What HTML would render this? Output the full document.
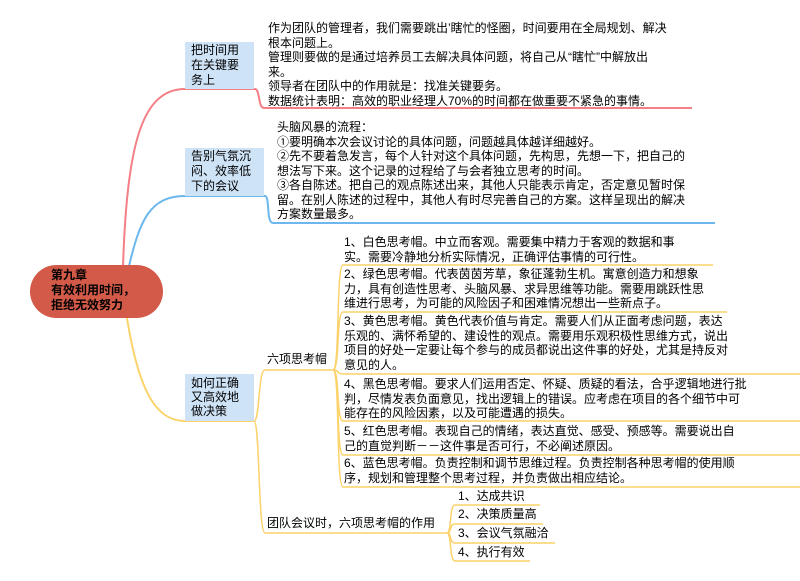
<!DOCTYPE html>
<html><head><meta charset="utf-8"><style>
body{margin:0;width:800px;height:581px;background:#fff;position:relative;overflow:hidden;font-family:"Liberation Sans","Noto Sans CJK SC",sans-serif;font-size:12px;color:#000}
.t{position:absolute;line-height:14.5px;white-space:nowrap}
.box{position:absolute;background:#cfe3f7;}
.root{position:absolute;left:30px;top:265px;width:133px;height:53px;border-radius:27px;background:#d35a48}
</style></head><body>
<svg width="800" height="581" style="position:absolute;left:0;top:0">
<g fill="none" stroke-width="2">
<path d="M123,266 C127,150 140,89 185,89 L255,89 C260,89 258,108 264,108 L692,108" stroke="#f47f86"/>
<path d="M129,266 C140,220 150,196 185,196 L265,196 C270,196 266,223 273,223 L715,223" stroke="#6cb8ee"/>
<path d="M127,318 C140,400 160,421 185,421 L254,421" stroke="#fcd26a"/>
<path d="M254,421 C260,421 258,370 265,370 L333,370" stroke="#fcd26a" stroke-width="1.5"/>
<path d="M254,421 C260,421 258,533 265,533 L447,533" stroke="#fcd26a" stroke-width="1.5"/>
<g stroke="#fcd26a" stroke-width="1.5">
<path d="M333,370 C340,370 336,265 343,265 L713,265"/>
<path d="M333,370 C340,370 336,312 343,312 L727,312"/>
<path d="M333,370 C340,370 336,374 343,374 L800,374"/>
<path d="M333,370 C340,370 336,421 343,421 L800,421"/>
<path d="M333,370 C340,370 336,455 343,455 L800,455"/>
<path d="M333,370 C340,370 336,487 343,487 L800,487"/>
<path d="M447,533 C452,533 449,505 455,505 L540,505"/>
<path d="M447,533 C452,533 449,524 455,524 L543,524"/>
<path d="M447,533 C452,533 449,543 455,543 L555,543"/>
<path d="M447,533 C452,533 449,561 455,561 L530,561"/>
</g></g></svg>
<div class="root"></div>
<div class="t" style="left:51px;top:268px;font-weight:bold;line-height:15px">第九章<br>有效利用时间，<br>拒绝无效努力</div>
<div class="box" style="left:185px;top:42px;width:69px;height:47px"></div>
<div class="t" style="left:191px;top:43px;line-height:15px">把时间用<br>在关键要<br>务上</div>
<div class="box" style="left:185px;top:148px;width:79px;height:48px"></div>
<div class="t" style="left:191px;top:149px;line-height:15px">告别气氛沉<br>闷、效率低<br>下的会议</div>
<div class="box" style="left:185px;top:374px;width:69px;height:47px"></div>
<div class="t" style="left:191px;top:376px;line-height:14px">如何正确<br>又高效地<br>做决策</div>
<div class="t" style="left:268px;top:21px">作为团队的管理者，我们需要跳出’瞎忙的怪圈，时间要用在全局规划、解决<br>根本问题上。<br>管理则要做的是通过培养员工去解决具体问题，将自己从“瞎忙”中解放出<br>来。<br>领导者在团队中的作用就是：找准关键要务。<br>数据统计表明：高效的职业经理人70%的时间都在做重要不紧急的事情。</div>
<div class="t" style="left:277px;top:120px">头脑风暴的流程：<br>①要明确本次会议讨论的具体问题，问题越具体越详细越好。<br>②先不要着急发言，每个人针对这个具体问题，先构思，先想一下，把自己的<br>想法写下来。这个记录的过程给了与会者独立思考的时间。<br>③各自陈述。把自己的观点陈述出来，其他人只能表示肯定，否定意见暂时保<br>留。在别人陈述的过程中，其他人有时尽完善自己的方案。这样呈现出的解决<br>方案数量最多。</div>
<div class="t" style="left:267px;top:352px">六项思考帽</div>
<div class="t" style="left:344px;top:235px">1、白色思考帽。中立而客观。需要集中精力于客观的数据和事<br>实。需要冷静地分析实际情况，正确评估事情的可行性。</div>
<div class="t" style="left:344px;top:267px">2、绿色思考帽。代表茵茵芳草，象征蓬勃生机。寓意创造力和想象<br>力，具有创造性思考、头脑风暴、求异思维等功能。需要用跳跃性思<br>维进行思考，为可能的风险因子和困难情况想出一些新点子。</div>
<div class="t" style="left:344px;top:314px">3、黄色思考帽。黄色代表价值与肯定。需要人们从正面考虑问题，表达<br>乐观的、满怀希望的、建设性的观点。需要用乐观积极性思维方式，说出<br>项目的好处一定要让每个参与的成员都说出这件事的好处，尤其是持反对<br>意见的人。</div>
<div class="t" style="left:344px;top:377px">4、黑色思考帽。要求人们运用否定、怀疑、质疑的看法，合乎逻辑地进行批<br>判，尽情发表负面意见，找出逻辑上的错误。应考虑在项目的各个细节中可<br>能存在的风险因素，以及可能遭遇的损失。</div>
<div class="t" style="left:344px;top:424px">5、红色思考帽。表现自己的情绪，表达直觉、感受、预感等。需要说出自<br>己的直觉判断－－这件事是否可行，不必阐述原因。</div>
<div class="t" style="left:344px;top:456px">6、蓝色思考帽。负责控制和调节思维过程。负责控制各种思考帽的使用顺<br>序，规划和管理整个思考过程，并负责做出相应结论。</div>
<div class="t" style="left:267px;top:516px">团队会议时，六项思考帽的作用</div>
<div class="t" style="left:458px;top:489px">1、达成共识</div>
<div class="t" style="left:458px;top:507px">2、决策质量高</div>
<div class="t" style="left:458px;top:526px">3、会议气氛融洽</div>
<div class="t" style="left:458px;top:545px">4、执行有效</div>
</body></html>
